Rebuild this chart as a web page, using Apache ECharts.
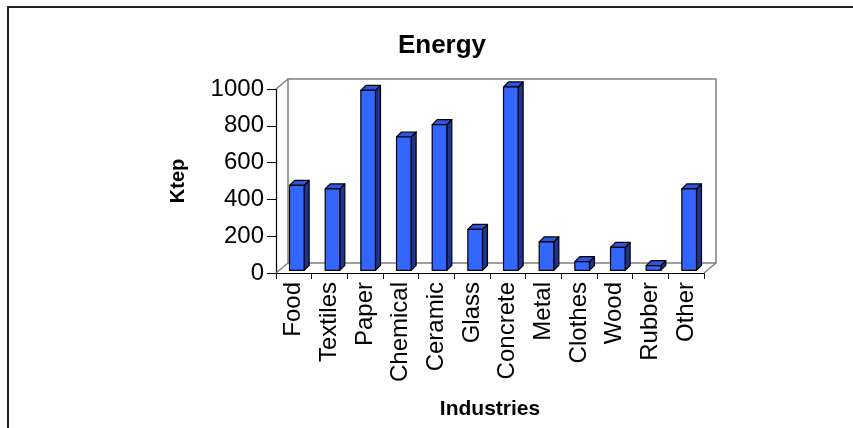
<!DOCTYPE html>
<html>
<head>
<meta charset="utf-8">
<style>
  html, body { margin: 0; padding: 0; background: #fff; }
  #echarts { width: 853px; height: 428px; }
</style>
<script src="https://cdn.jsdelivr.net/npm/echarts@6/dist/echarts.min.js"></script>
</head>
<body>
<div id="echarts"></div>
<script>
// data
var industries = ['Food', 'Textiles', 'Paper', 'Chemical', 'Ceramic', 'Glass',
                  'Concrete', 'Metal', 'Clothes', 'Wood', 'Rubber', 'Other'];
var energy = [462, 443, 978, 725, 792, 223, 997, 155, 48, 125, 26, 443];
var yTicks = [0, 200, 400, 600, 800, 1000];

var FONT = 'Liberation Sans, Arial, sans-serif';
var DEPTH_X = 12, DEPTH_Y = 10;   // floor / wall depth
var BAR_OX = 3, BAR_OY = -2.6;    // bars sit a little back from the front edge
var BAR_D = 5;                     // bar depth

var myChart = echarts.init(document.getElementById('echarts'));

// back wall + floor edges, from the grid rectangle
function renderWall(params, api) {
    var cs = params.coordSys;
    var l = cs.x, t = cs.y, r = cs.x + cs.width, b = cs.y + cs.height;
    var st = { stroke: '#808080', lineWidth: 1.5, fill: null };
    return {
        type: 'group',
        children: [
            { type: 'rect', shape: { x: l + DEPTH_X, y: t - DEPTH_Y, width: cs.width, height: cs.height }, style: st },
            { type: 'line', shape: { x1: l, y1: t, x2: l + DEPTH_X, y2: t - DEPTH_Y }, style: st },
            { type: 'line', shape: { x1: l, y1: b, x2: l + DEPTH_X, y2: b - DEPTH_Y }, style: st },
            { type: 'line', shape: { x1: r, y1: b, x2: r + DEPTH_X, y2: b - DEPTH_Y }, style: st }
        ]
    };
}

// 3d looking bar: front, side, top
function renderBar(params, api) {
    var idx = api.value(0);
    var top = api.coord([idx, api.value(1)]);
    var base = api.coord([idx, 0]);
    var w = api.size([1, 0])[0] * 0.41;
    var x0 = top[0] - w / 2 + BAR_OX, x1 = x0 + w;
    var y0 = top[1] + BAR_OY, y1 = base[1] + BAR_OY;
    var line = { stroke: '#000', lineWidth: 1.2, lineJoin: 'round' };
    return {
        type: 'group',
        children: [
            { type: 'polygon', shape: { points: [[x1, y1], [x1, y0], [x1 + BAR_D, y0 - BAR_D], [x1 + BAR_D, y1 - BAR_D]] },
              style: Object.assign({ fill: '#1d3591' }, line) },
            { type: 'polygon', shape: { points: [[x0, y0], [x1, y0], [x1 + BAR_D, y0 - BAR_D], [x0 + BAR_D, y0 - BAR_D]] },
              style: Object.assign({ fill: '#2f55dc' }, line) },
            { type: 'rect', shape: { x: x0, y: y0, width: w, height: y1 - y0 },
              style: Object.assign({ fill: '#3366ff' }, line) }
        ]
    };
}

option = {
    backgroundColor: '#fff',
    animation: false,
    title: {
        text: 'Energy',
        left: 437,
        top: 28,
        textAlign: 'center',
        textStyle: { fontFamily: FONT, fontSize: 26, fontWeight: 'bold', color: '#000' }
    },
    graphic: [
        { type: 'rect', shape: { x: 8, y: 7, width: 1000, height: 1000 },
          style: { fill: null, stroke: '#222', lineWidth: 2 }, z: 100 }
    ],
    grid: { left: 276, right: 149, top: 89, bottom: 155 },
    xAxis: {
        type: 'category',
        data: industries,
        boundaryGap: true,
        name: 'Industries',
        nameLocation: 'middle',
        nameGap: 126,
        nameTextStyle: { fontFamily: FONT, fontSize: 21, fontWeight: 'bold', color: '#000' },
        axisLine: { show: true, lineStyle: { color: '#000', width: 1.2 } },
        axisTick: { show: true, alignWithLabel: false, length: 6, lineStyle: { color: '#000' } },
        axisLabel: { rotate: 90, margin: 9, interval: 0, fontFamily: FONT, fontSize: 24, color: '#000' },
        splitLine: { show: false }
    },
    yAxis: {
        type: 'value',
        min: yTicks[0],
        max: yTicks[yTicks.length - 1],
        interval: yTicks[1] - yTicks[0],
        name: 'Ktep',
        nameLocation: 'middle',
        nameGap: 88,
        nameRotate: 90,
        nameTextStyle: { fontFamily: FONT, fontSize: 20, fontWeight: 'bold', color: '#000' },
        axisLine: { show: true, lineStyle: { color: '#000', width: 1.2 } },
        axisTick: { show: true, length: 9, lineStyle: { color: '#000' } },
        axisLabel: { margin: 12, fontFamily: FONT, fontSize: 24, color: '#000',
                     formatter: function (v) { return String(v); } },
        splitLine: { show: false }
    },
    series: [
        {
            type: 'custom',
            renderItem: renderWall,
            data: [[0, 0]],
            silent: true,
            z: 1
        },
        {
            type: 'custom',
            renderItem: renderBar,
            data: energy.map(function (v, i) { return [i, v]; }),
            encode: { x: 0, y: 1 },
            z: 3
        }
    ]
};
myChart.setOption(option);
</script>
</body>
</html>
